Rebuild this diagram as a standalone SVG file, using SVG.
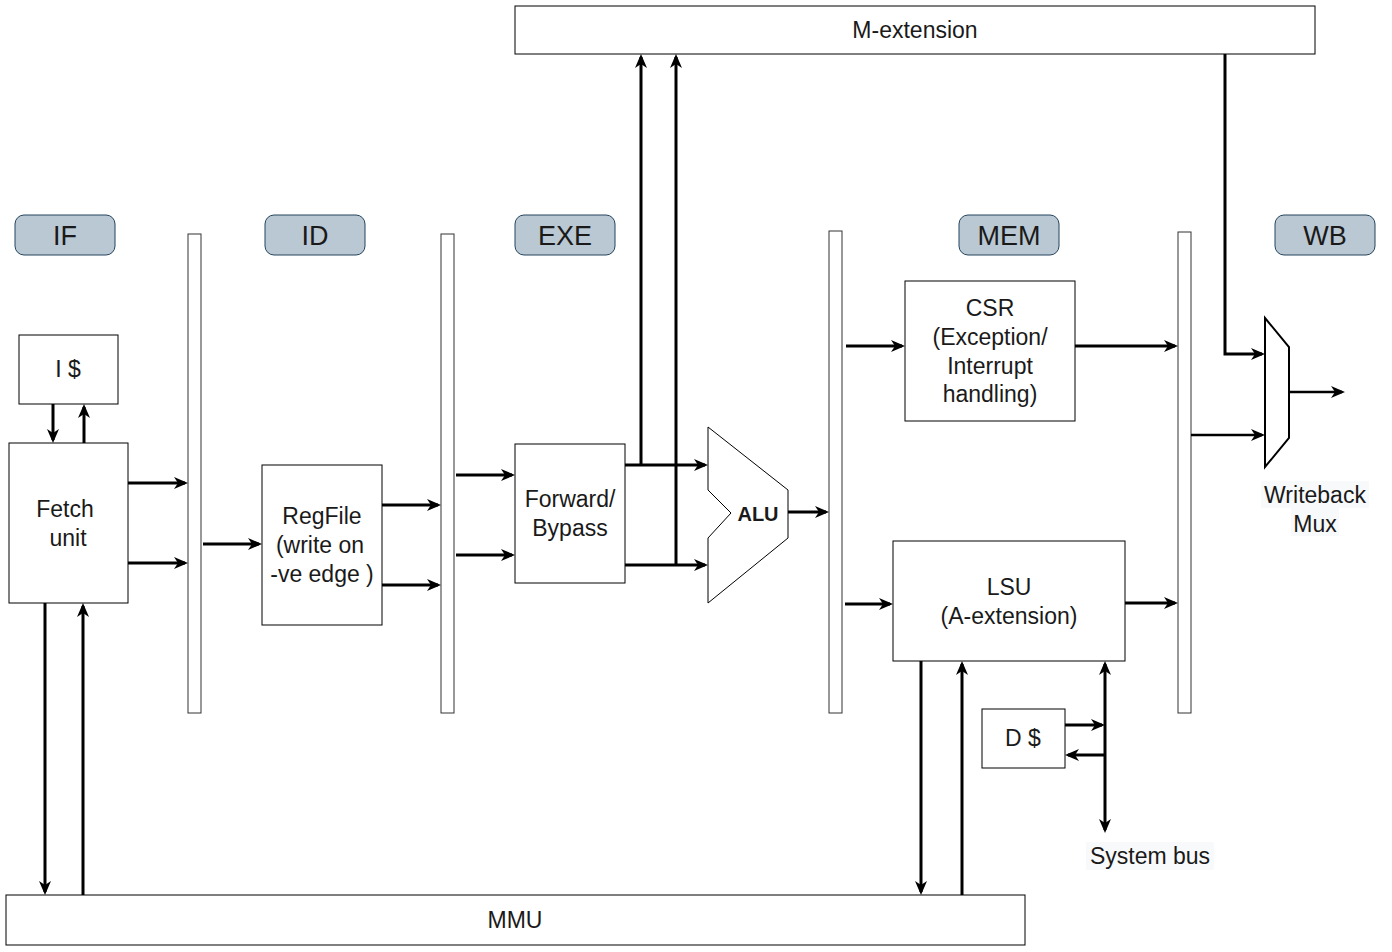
<svg xmlns="http://www.w3.org/2000/svg" width="1392" height="952" viewBox="0 0 1392 952">
<style>
.box{fill:#fff;stroke:#000;stroke-width:1}
.reg{fill:#fff;stroke:#333;stroke-width:1}
.stage{fill:#bac8d3;stroke:#23445d;stroke-width:1}
.t{font-family:"Liberation Sans",Arial,sans-serif;font-size:23px;fill:#1a1a1a;text-anchor:middle}
.st{font-family:"Liberation Sans",Arial,sans-serif;font-size:27px;fill:#1a1a1a;text-anchor:middle}
.c{fill:none;stroke:#000;stroke-width:3}
.a{marker-end:url(#ah)}
.b{marker-start:url(#ah);marker-end:url(#ah)}
.lbg{fill:#f8f9fa}
</style>
<defs>
<marker id="ah" markerUnits="userSpaceOnUse" viewBox="0 0 14 12" markerWidth="14" markerHeight="12" refX="11" refY="6" orient="auto-start-reverse">
<path d="M0,0 L14,6 L0,12 L4,6 z" fill="#000"/>
</marker>
</defs>
<rect width="1392" height="952" fill="#fff"/>

<g id="stage-IF"><rect class="stage" x="15" y="215" width="100" height="40" rx="9"/><text class="st" x="65" y="245">IF</text></g>
<g id="stage-ID"><rect class="stage" x="265" y="215" width="100" height="40" rx="9"/><text class="st" x="315" y="245">ID</text></g>
<g id="stage-EXE"><rect class="stage" x="515" y="215" width="100" height="40" rx="9"/><text class="st" x="565" y="245">EXE</text></g>
<g id="stage-MEM"><rect class="stage" x="959" y="215" width="100" height="40" rx="9"/><text class="st" x="1009" y="245">MEM</text></g>
<g id="stage-WB"><rect class="stage" x="1275" y="215" width="100" height="40" rx="9"/><text class="st" x="1325" y="245">WB</text></g>

<g id="reg-IF-ID"><rect class="reg" x="188" y="234" width="13" height="479"/></g>
<g id="reg-ID-EXE"><rect class="reg" x="441" y="234" width="13" height="479"/></g>
<g id="reg-EXE-MEM"><rect class="reg" x="829" y="231" width="13" height="482"/></g>
<g id="reg-MEM-WB"><rect class="reg" x="1178" y="232" width="13" height="481"/></g>

<g id="m-extension"><rect class="box" x="515" y="6" width="800" height="48"/><text class="t" x="915" y="38">M-extension</text></g>
<g id="icache"><rect class="box" x="19" y="335" width="99" height="69"/><text class="t" x="68" y="377">I $</text></g>
<g id="fetch"><rect class="box" x="9" y="443" width="119" height="160"/><text class="t" x="65" y="517">Fetch</text><text class="t" x="68" y="546">unit</text></g>
<g id="regfile"><rect class="box" x="262" y="465" width="120" height="160"/><text class="t" x="322" y="524">RegFile</text><text class="t" x="320" y="553">(write on</text><text class="t" x="322" y="582">-ve edge )</text></g>
<g id="forward"><rect class="box" x="515" y="444" width="110" height="139"/><text class="t" x="570" y="507">Forward/</text><text class="t" x="570" y="536">Bypass</text></g>
<g id="alu"><path class="box" d="M708,427 L788,490 L788,538 L708,603 L708,538 L731,513 L708,490 Z"/><text class="t" x="758" y="521" style="font-weight:bold;font-size:20px">ALU</text></g>
<g id="csr"><rect class="box" x="905" y="281" width="170" height="140"/><text class="t" x="990" y="316">CSR</text><text class="t" x="990" y="345">(Exception/</text><text class="t" x="990" y="374">Interrupt</text><text class="t" x="990" y="402">handling)</text></g>
<g id="lsu"><rect class="box" x="893" y="541" width="232" height="120"/><text class="t" x="1009" y="595">LSU</text><text class="t" x="1009" y="624">(A-extension)</text></g>
<g id="dcache"><rect class="box" x="982" y="709" width="83" height="59"/><text class="t" x="1023" y="746">D $</text></g>
<g id="mmu"><rect class="box" x="6" y="895" width="1019" height="50"/><text class="t" x="515" y="928">MMU</text></g>
<g id="wb-mux"><path d="M1265,318 L1289,347 L1289,438 L1265,467 Z" fill="#fff" stroke="#000" stroke-width="2"/>
<rect class="lbg" x="1261" y="481" width="108" height="27"/><rect class="lbg" x="1291" y="508" width="48" height="28"/>
<text class="t" x="1315" y="503">Writeback</text><text class="t" x="1315" y="532">Mux</text></g>
<g id="system-bus"><rect class="lbg" x="1086" y="842" width="128" height="28"/><text class="t" x="1150" y="864">System bus</text></g>

<g id="connectors">
<path class="c a" d="M53,404 V440"/>
<path class="c a" d="M84,443 V407"/>
<path class="c a" d="M128,483 H185"/>
<path class="c a" d="M128,563 H185"/>
<path class="c a" d="M203,544 H259"/>
<path class="c a" d="M382,505 H438"/>
<path class="c a" d="M382,585 H438"/>
<path class="c a" d="M456,475 H512"/>
<path class="c a" d="M456,555 H512"/>
<path class="c a" d="M625,465 H705"/>
<path class="c a" d="M625,565 H705"/>
<path class="c a" d="M641,465 V57"/>
<path class="c a" d="M676,565 V57"/>
<path class="c a" d="M788,512 H826"/>
<path class="c a" d="M846,346 H902"/>
<path class="c a" d="M845,604 H890"/>
<path class="c a" d="M1075,346 H1175"/>
<path class="c a" d="M1125,603 H1175"/>
<path class="c a" d="M1225,54 V354 H1262"/>
<path class="c a" d="M1191,435 H1262" style="stroke-width:2.5"/>
<path class="c a" d="M1289,392 H1342" style="stroke-width:2.5"/>
<path class="c a" d="M921,661 V892"/>
<path class="c a" d="M962,895 V664"/>
<path class="c b" d="M1105,664 V830"/>
<path class="c a" d="M1065,725 H1102"/>
<path class="c a" d="M1105,755 H1068"/>
<path class="c a" d="M45,603 V892"/>
<path class="c a" d="M83,895 V606"/>
</g>
</svg>
